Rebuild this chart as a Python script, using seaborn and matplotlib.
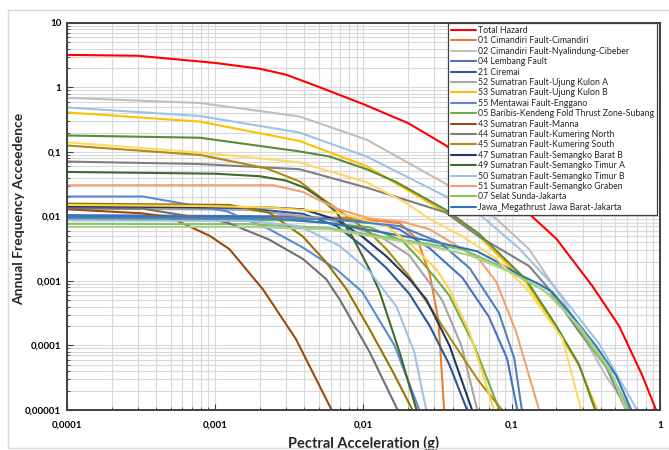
# Hazard curves per seismic source - recreated with seaborn
import pandas as pd
import matplotlib.pyplot as plt
import seaborn as sns
from matplotlib.lines import Line2D
from matplotlib.patches import Rectangle

sns.set_style("white")
plt.rcParams['font.family'] = ['Lato', 'DejaVu Sans']

# --- Data (acceleration in g, annual frequency) ---
total_x = [0.0001, 0.0003, 0.001, 0.002, 0.003, 0.005, 0.01, 0.02, 0.036, 0.07, 0.137, 0.2, 0.35, 0.53, 0.76, 0.94]
total_y = [3.2, 3.1, 2.4, 1.95, 1.58, 1.02, 0.55, 0.28, 0.126, 0.038, 0.01, 0.0045, 0.00083, 0.0002, 3.4e-5, 1e-5]

cim01_x = [0.0001, 0.008, 0.0175, 0.023, 0.028, 0.032, 0.035]
cim01_y = [0.01, 0.0095, 0.0079, 0.0045, 0.00126, 0.00025, 1e-5]

cim02_x = [0.0001, 0.00079, 0.0037, 0.0105, 0.036, 0.079, 0.131, 0.22, 0.32, 0.43, 0.62]
cim02_y = [0.69, 0.575, 0.355, 0.155, 0.032, 0.0091, 0.0031, 0.00052, 0.000112, 3.4e-5, 1e-5]

lem04_x = [0.0001, 0.0037, 0.011, 0.0175, 0.028, 0.0465, 0.07, 0.093, 0.109]
lem04_y = [0.0105, 0.01, 0.0083, 0.0063, 0.0032, 0.00112, 0.00028, 6.3e-5, 1e-5]

cir21_x = [0.0001, 0.0017, 0.0039, 0.0066, 0.0098, 0.0143, 0.0204, 0.028, 0.038, 0.05]
cir21_y = [0.0145, 0.0132, 0.011, 0.0071, 0.0035, 0.00158, 0.00063, 0.0002, 5e-5, 1e-5]

uka52_x = [0.0001, 0.0017, 0.0059, 0.0128, 0.0204, 0.034, 0.0457, 0.0586]
uka52_y = [0.0135, 0.0126, 0.0089, 0.005, 0.0025, 0.0005, 0.0001, 1e-5]

ukb53_x = [0.0001, 0.00079, 0.0037, 0.0105, 0.036, 0.06, 0.125, 0.2, 0.285, 0.377]
ukb53_y = [0.41, 0.295, 0.148, 0.06, 0.0115, 0.0049, 0.00095, 0.00018, 4.8e-5, 1e-5]

men55_x = [0.0001, 0.000325, 0.0012, 0.00233, 0.0039, 0.0066, 0.0098, 0.0162, 0.0238]
men55_y = [0.0204, 0.0204, 0.012, 0.0063, 0.0033, 0.0015, 0.00068, 0.0001, 1e-5]

bar05_x = [0.0001, 0.0037, 0.011, 0.0183, 0.0238, 0.031, 0.038, 0.0558, 0.0824]
bar05_y = [0.0091, 0.0087, 0.0068, 0.0042, 0.0022, 0.00107, 0.00059, 0.0001, 1e-5]

man43_x = [0.0001, 0.00032, 0.00049, 0.00092, 0.00125, 0.0021, 0.0035, 0.0061]
man43_y = [0.0129, 0.0112, 0.0098, 0.005, 0.0031, 0.00074, 0.000126, 1e-5]

kun44_x = [0.0001, 0.00079, 0.0037, 0.0105, 0.036, 0.06, 0.131, 0.179, 0.285, 0.43, 0.59]
kun44_y = [0.071, 0.065, 0.054, 0.028, 0.0115, 0.0049, 0.0017, 0.00074, 0.000162, 4.8e-5, 1e-5]

kus45_x = [0.0001, 0.00079, 0.0022, 0.0037, 0.0051, 0.0084, 0.011, 0.0143, 0.0204, 0.028, 0.0443, 0.06, 0.086]
kus45_y = [0.126, 0.09, 0.056, 0.035, 0.02, 0.0089, 0.0056, 0.0031, 0.00117, 0.0004, 7.9e-5, 2.8e-5, 1e-5]

sbb47_x = [0.0001, 0.0023, 0.0039, 0.0066, 0.0098, 0.0143, 0.0204, 0.0265, 0.038, 0.054]
sbb47_y = [0.0141, 0.0138, 0.0129, 0.0089, 0.0049, 0.0024, 0.00107, 0.00052, 0.0001, 1e-5]

sta49_x = [0.0001, 0.001, 0.002, 0.003, 0.004, 0.005, 0.0066, 0.0084, 0.011, 0.0128, 0.0175, 0.0228]
sta49_y = [0.049, 0.046, 0.042, 0.036, 0.028, 0.02, 0.0115, 0.0049, 0.0015, 0.0007, 7.9e-5, 1e-5]

stb50_x = [0.0001, 0.00079, 0.0037, 0.0105, 0.036, 0.063, 0.112, 0.193, 0.39, 0.70]
stb50_y = [0.49, 0.36, 0.2, 0.085, 0.0204, 0.01, 0.0032, 0.00083, 0.000105, 1e-5]

sgr51_x = [0.0001, 0.00245, 0.0039, 0.0066, 0.011, 0.0183, 0.028, 0.06, 0.079, 0.107, 0.153]
sgr51_y = [0.0305, 0.0305, 0.024, 0.0132, 0.0093, 0.0083, 0.0063, 0.0022, 0.00095, 0.000162, 1e-5]

sel07_x = [0.0001, 0.0017, 0.0059, 0.028, 0.0465, 0.079, 0.153, 0.2, 0.285, 0.475, 0.62]
sel07_y = [0.0077, 0.0076, 0.0066, 0.0037, 0.0031, 0.0018, 0.00079, 0.00052, 0.000178, 3.4e-5, 1e-5]

jawa_x = [0.0001, 0.0017, 0.0059, 0.028, 0.04, 0.058, 0.079, 0.112, 0.153, 0.187, 0.255, 0.37, 0.506, 0.64]
jawa_y = [0.0099, 0.0099, 0.0079, 0.0042, 0.0035, 0.0029, 0.002, 0.00126, 0.00089, 0.00068, 0.00029, 9.8e-5, 3.4e-5, 1e-5]

# curves drawn in the chart that are not listed in its legend
ex_green_x = [0.0001, 0.00079, 0.0037, 0.0059, 0.0105, 0.0167, 0.036, 0.06, 0.125, 0.2, 0.285, 0.365]
ex_green_y = [0.18, 0.166, 0.102, 0.085, 0.054, 0.034, 0.0126, 0.0054, 0.00105, 0.0002, 5e-5, 1e-5]

ex_ltyel_x = [0.0001, 0.00079, 0.0037, 0.0105, 0.0195, 0.028, 0.0465, 0.079, 0.131, 0.22, 0.294]
ex_ltyel_y = [0.141, 0.098, 0.069, 0.034, 0.016, 0.0091, 0.0049, 0.0022, 0.00068, 0.000126, 1e-5]

ex_olive_x = [0.0001, 0.00125, 0.0023, 0.0039, 0.0056, 0.0077, 0.011, 0.0157, 0.0214]
ex_olive_y = [0.0158, 0.0151, 0.0115, 0.0049, 0.00195, 0.00074, 0.000178, 4e-5, 1e-5]

ex_gray_x = [0.0001, 0.000325, 0.0012, 0.0023, 0.0039, 0.0056, 0.0069, 0.011, 0.017]
ex_gray_y = [0.0133, 0.0132, 0.0081, 0.0044, 0.0022, 0.00107, 0.00052, 7.9e-5, 1e-5]

ex_yel_x = [0.0001, 0.00079, 0.0023, 0.0066, 0.0143, 0.0214, 0.031, 0.038, 0.052, 0.076]
ex_yel_y = [0.0151, 0.0145, 0.0138, 0.0115, 0.0071, 0.0035, 0.0015, 0.00074, 0.000158, 1e-5]

ex_ltblue_x = [0.0001, 0.0017, 0.0037, 0.0069, 0.011, 0.0167, 0.022, 0.0265]
ex_ltblue_y = [0.0087, 0.0085, 0.0071, 0.0035, 0.0014, 0.0004, 7.9e-5, 1e-5]

ex_blue_x = [0.0001, 0.0059, 0.0175, 0.0325, 0.052, 0.082, 0.104, 0.117]
ex_blue_y = [0.0095, 0.0091, 0.0071, 0.004, 0.00158, 0.00032, 6.3e-5, 1e-5]

ex_ltgreen_x = [0.0001, 0.0017, 0.0059, 0.028, 0.052, 0.096, 0.166, 0.285, 0.454, 0.59]
ex_ltgreen_y = [0.0069, 0.0069, 0.0063, 0.0035, 0.0025, 0.0014, 0.00071, 0.0002, 4.5e-5, 1e-5]

x_ticks = [0.0001, 0.001, 0.01, 0.1, 1]
x_tick_labels = ["0,0001", "0,001", "0,01", "0,1", "1"]
y_ticks = [0.00001, 0.0001, 0.001, 0.01, 0.1, 1, 10]
y_tick_labels = ["0,00001", "0,0001", "0,001", "0,01", "0,1", "1", "10"]

# name, colour, x, y, shown in legend
series = [
    ("Total Hazard", "#FF0000", total_x, total_y, True),
    ("01 Cimandiri Fault-Cimandiri", "#ED7D31", cim01_x, cim01_y, True),
    ("02 Cimandiri Fault-Nyalindung-Cibeber", "#BFBFBF", cim02_x, cim02_y, True),
    ("04 Lembang Fault", "#4472C4", lem04_x, lem04_y, True),
    ("21 Ciremai", "#2F5597", cir21_x, cir21_y, True),
    ("52 Sumatran Fault-Ujung Kulon A", "#A5A5A5", uka52_x, uka52_y, True),
    ("53 Sumatran Fault-Ujung Kulon B", "#FFC000", ukb53_x, ukb53_y, True),
    ("55 Mentawai Fault-Enggano", "#5B8BD5", men55_x, men55_y, True),
    ("05 Baribis-Kendeng Fold Thrust Zone-Subang", "#70AD47", bar05_x, bar05_y, True),
    ("43 Sumatran Fault-Manna", "#9E480E", man43_x, man43_y, True),
    ("44 Sumatran Fault-Kumering North", "#7F7F7F", kun44_x, kun44_y, True),
    ("45 Sumatran Fault-Kumering South", "#B08A10", kus45_x, kus45_y, True),
    ("47 Sumatran Fault-Semangko Barat B", "#203864", sbb47_x, sbb47_y, True),
    ("49 Sumatran Fault-Semangko Timur A", "#43682B", sta49_x, sta49_y, True),
    ("50 Sumatran Fault-Semangko Timur B", "#9DC3E6", stb50_x, stb50_y, True),
    ("51 Sumatran Fault-Semangko Graben", "#F4A070", sgr51_x, sgr51_y, True),
    ("07 Selat Sunda-Jakarta", "#8CC168", sel07_x, sel07_y, True),
    ("Jawa_Megathrust Jawa Barat-Jakarta", "#2E75B6", jawa_x, jawa_y, True),
    ("extra green", "#5A8A3A", ex_green_x, ex_green_y, False),
    ("extra light yellow", "#FFD966", ex_ltyel_x, ex_ltyel_y, False),
    ("extra olive", "#997300", ex_olive_x, ex_olive_y, False),
    ("extra gray", "#707070", ex_gray_x, ex_gray_y, False),
    ("extra yellow", "#FFD24D", ex_yel_x, ex_yel_y, False),
    ("extra light blue", "#9DC3E6", ex_ltblue_x, ex_ltblue_y, False),
    ("extra blue", "#4F81BD", ex_blue_x, ex_blue_y, False),
    ("extra light green", "#A9D18E", ex_ltgreen_x, ex_ltgreen_y, False),
]

rows = []
for name, color, xs, ys, shown in series:
    for xv, yv in zip(xs, ys):
        rows.append({"source": name, "accel": xv, "freq": yv})
df = pd.DataFrame(rows)
palette = {name: color for name, color, _, _, _ in series}
order = [s[0] for s in series]

fig = plt.figure(figsize=(6.69, 4.5), dpi=100)
fig.patches.append(Rectangle((8 / 669, 2 / 450), 1.0, 1 - 12 / 450, transform=fig.transFigure,
                             fill=False, edgecolor="#D9D9D9", linewidth=1.0))
ax = fig.add_axes([0.1, 0.089, 0.8866, 0.86])
ax.set_xscale("log")
ax.set_yscale("log")

sns.lineplot(data=df, x="accel", y="freq", hue="source", hue_order=order, palette=palette,
             estimator=None, sort=False, legend=False, linewidth=1.5, ax=ax)

ax.set_xlim(0.0001, 1)
ax.set_ylim(0.00001, 10)
ax.set_xticks(x_ticks)
ax.set_xticklabels(x_tick_labels, fontsize=7, fontweight="bold")
ax.set_yticks(y_ticks)
ax.set_yticklabels(y_tick_labels, fontsize=7, fontweight="bold")
ax.grid(True, which="both", color="#D9D9D9", linewidth=0.8)
ax.set_axisbelow(True)
ax.tick_params(which="both", direction="in", colors="#404040", labelcolor="black",
               left=True, bottom=True)
ax.tick_params(which="major", length=4, width=0.8)
ax.tick_params(which="minor", length=2.5, width=0.6)
ax.tick_params(axis="x", pad=8)
ax.tick_params(axis="y", pad=4)
for sp in ax.spines.values():
    sp.set_color("#404040")
    sp.set_linewidth(1.4)

ax.set_xlabel("Pectral Acceleration (g)", fontsize=10.5, fontweight="bold", labelpad=4)
ax.set_ylabel("Annual Frequency Acceedence", fontsize=10, fontweight="bold")
ax.yaxis.set_label_coords(-0.071, 0.52)

handles = [Line2D([0], [0], color=color, lw=1.5) for name, color, _, _, shown in series if shown]
labels = [name for name, color, _, _, shown in series if shown]
leg = ax.legend(handles, labels, loc="upper right", bbox_to_anchor=(0.995, 1.0), fontsize=6.3,
                frameon=True, fancybox=False, framealpha=1, edgecolor="#404040",
                borderaxespad=0, labelspacing=0.16, handlelength=2.85, handletextpad=0.25,
                borderpad=0.35)
leg.get_frame().set_linewidth(0.9)

plt.savefig("out.png", dpi=100)
plt.close()
